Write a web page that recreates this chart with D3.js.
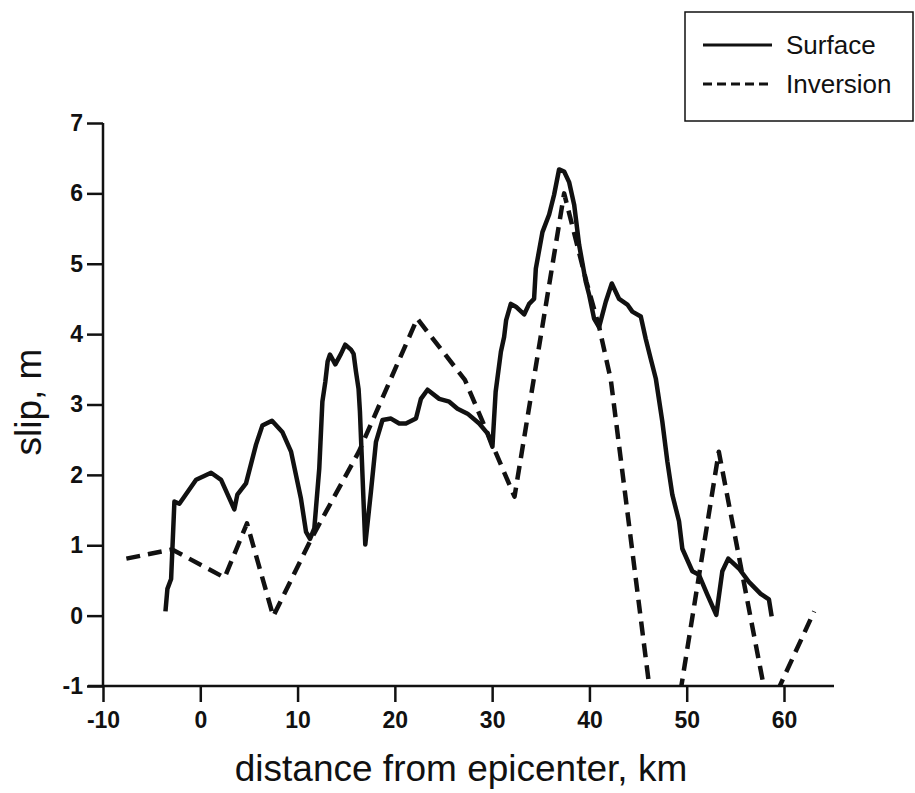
<!DOCTYPE html>
<html>
<head>
<meta charset="utf-8">
<script src="https://cdn.jsdelivr.net/npm/d3@7/dist/d3.min.js"></script>
<style>
  html, body { margin: 0; padding: 0; background: #fff; }
  svg { display: block; font-family: "Liberation Sans", Arial, Helvetica, sans-serif; }
</style>
</head>
<body>
<svg id="chart" width="915" height="793"></svg>
<script>
// ---- data ----
const surfaceX = [-3.58, -3.38, -3.0, -2.66, -2.15, -0.43, 1.11, 2.14, 3.5, 3.81, 4.7, 5.73, 6.38, 7.37, 8.43, 9.33, 10.35, 10.87, 11.28, 11.72, 12.23, 12.55, 12.85, 13.09, 13.33, 13.88, 14.46, 14.9, 15.49, 15.76, 16.0, 16.27, 16.41, 16.96, 17.54, 18.06, 18.73, 19.6, 20.45, 21.14, 22.17, 22.68, 23.36, 24.56, 25.59, 26.44, 27.47, 28.67, 29.52, 30.03, 30.36, 30.9, 31.23, 31.44, 31.92, 32.44, 33.29, 33.8, 34.31, 34.49, 35.17, 35.86, 36.37, 36.88, 37.4, 37.91, 38.43, 38.94, 39.63, 39.97, 40.48, 40.99, 41.68, 42.3, 43.05, 43.9, 44.41, 45.28, 45.79, 46.3, 46.82, 47.49, 48.01, 48.52, 49.21, 49.55, 50.58, 51.26, 52.12, 53.04, 53.66, 54.27, 55.37, 56.39, 57.6, 58.45, 58.73];
const surfaceY = [0.06, 0.38, 0.52, 1.62, 1.59, 1.93, 2.03, 1.93, 1.51, 1.72, 1.88, 2.43, 2.70, 2.77, 2.61, 2.33, 1.66, 1.19, 1.09, 1.24, 2.09, 3.04, 3.32, 3.61, 3.71, 3.57, 3.72, 3.85, 3.78, 3.72, 3.47, 3.22, 2.90, 1.01, 1.76, 2.47, 2.78, 2.80, 2.73, 2.73, 2.80, 3.08, 3.21, 3.08, 3.04, 2.94, 2.87, 2.73, 2.59, 2.40, 3.18, 3.75, 3.96, 4.20, 4.43, 4.39, 4.28, 4.43, 4.50, 4.93, 5.45, 5.70, 5.98, 6.34, 6.31, 6.16, 5.84, 5.27, 4.74, 4.56, 4.22, 4.10, 4.46, 4.72, 4.50, 4.42, 4.32, 4.25, 3.93, 3.65, 3.37, 2.76, 2.19, 1.72, 1.34, 0.95, 0.63, 0.58, 0.30, 0.01, 0.63, 0.81, 0.67, 0.48, 0.31, 0.23, -0.01];

const inversionX = [-7.6, -2.9, 2.5, 4.8, 7.5, 11.4, 16.3, 22.3, 27.2, 32.3, 37.4, 39.7, 41.0, 42.2, 47.6, 53.3, 58.4, 63.1];
const inversionY = [0.81, 0.94, 0.54, 1.31, -0.01, 1.09, 2.33, 4.22, 3.35, 1.69, 6.0, 4.74, 4.1, 3.35, -2.6, 2.33, -1.35, 0.06];

const xTicks = [-10, 0, 10, 20, 30, 40, 50, 60];
const yTicks = [-1, 0, 1, 2, 3, 4, 5, 6, 7];
const seriesNames = ["Surface", "Inversion"];
const xTitle = "distance from epicenter, km";
const yTitle = "slip, m";

// ---- drawing ----
const svg = d3.select("#chart");
const x = d3.scaleLinear().domain([-10, 60]).range([103, 784]);
const y = d3.scaleLinear().domain([-1, 7]).range([686, 123]);

svg.append("defs").append("clipPath").attr("id", "plotclip")
  .append("rect").attr("x", x(-10)).attr("y", 0)
  .attr("width", 840 - x(-10)).attr("height", y(-1));

const fmt = d => String(d);
// axes
const xAxis = svg.append("g").attr("transform", `translate(0,${y(-1)})`)
  .call(d3.axisBottom(x).tickValues(xTicks).tickSize(16).tickPadding(10).tickFormat(fmt));
const yAxis = svg.append("g").attr("transform", `translate(${x(-10)},0)`)
  .call(d3.axisLeft(y).tickValues(yTicks).tickSize(16).tickPadding(4).tickFormat(fmt));
[xAxis, yAxis].forEach(g => {
  g.select(".domain").remove();
  g.selectAll(".tick line").attr("stroke", "#111").attr("stroke-width", 2.5);
  g.selectAll(".tick text").attr("fill", "#111").attr("font-size", 23).attr("font-weight", "bold")
    .attr("font-family", "'Liberation Sans', Arial, Helvetica, sans-serif");
});
// axis lines
svg.append("line").attr("x1", 88).attr("x2", 834).attr("y1", y(-1)).attr("y2", y(-1))
  .attr("stroke", "#111").attr("stroke-width", 2.5);
svg.append("line").attr("x1", x(-10)).attr("x2", x(-10)).attr("y1", y(7)).attr("y2", y(-1))
  .attr("stroke", "#111").attr("stroke-width", 2.5);

// titles
svg.append("text").attr("x", 461).attr("y", 781).attr("text-anchor", "middle")
  .attr("font-size", 37).attr("fill", "#111").text(xTitle);
svg.append("text").attr("transform", "translate(41,402) rotate(-90)").attr("text-anchor", "middle")
  .attr("font-size", 37).attr("fill", "#111").text(yTitle);

// lines
const line = d3.line().x(d => x(d[0])).y(d => y(d[1]));
const surface = surfaceX.map((v, i) => [v, surfaceY[i]]);
const inversion = inversionX.map((v, i) => [v, inversionY[i]]);
const plot = svg.append("g").attr("clip-path", "url(#plotclip)");
plot.append("path").datum(inversion).attr("d", line).attr("fill", "none")
  .attr("stroke", "#111").attr("stroke-width", 4.5).attr("stroke-dasharray", "14,8")
  .attr("stroke-linejoin", "round");
plot.append("path").datum(surface).attr("d", line).attr("fill", "none")
  .attr("stroke", "#111").attr("stroke-width", 4.5).attr("stroke-linejoin", "round");

// legend
const lg = svg.append("g");
lg.append("rect").attr("x", 685).attr("y", 12).attr("width", 228).attr("height", 109)
  .attr("fill", "#fff").attr("stroke", "#111").attr("stroke-width", 1.5);
const legendRows = [{ name: seriesNames[0], dash: null, yy: 45 }, { name: seriesNames[1], dash: "9,5", yy: 84 }];
legendRows.forEach(r => {
  lg.append("line").attr("x1", 703).attr("x2", 772).attr("y1", r.yy).attr("y2", r.yy)
    .attr("stroke", "#111").attr("stroke-width", 3).attr("stroke-dasharray", r.dash);
  lg.append("text").attr("x", 786).attr("y", r.yy + 9).attr("font-size", 26)
    .attr("fill", "#111").text(r.name);
});
</script>
</body>
</html>
